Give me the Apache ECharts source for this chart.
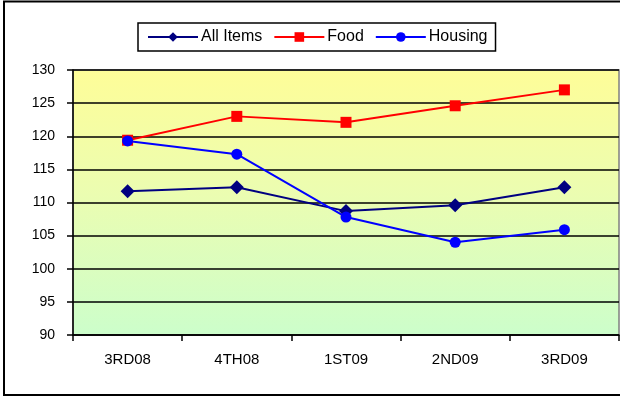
<!DOCTYPE html>
<html>
<head>
<meta charset="utf-8">
<style>
  html, body { margin: 0; padding: 0; background: #ffffff; }
  #chart { width: 620px; height: 397px; }
</style>
<script src="https://cdn.jsdelivr.net/npm/echarts@6/dist/echarts.min.js"></script>
</head>
<body>
<div id="chart"></div>
<script>
// Quarterly index values
const quarters = ['3RD08', '4TH08', '1ST09', '2ND09', '3RD09'];
const allItems = [111.7, 112.3, 108.7, 109.6, 112.3];
const food = [119.4, 123.0, 122.1, 124.6, 127.0];
const housing = [119.3, 117.3, 107.8, 104.0, 105.9];
const yTicks = { min: 90, max: 130, interval: 5 };

const FONT = '"Liberation Sans", Arial, sans-serif';

const chart = echarts.init(document.getElementById('chart'), null, { renderer: 'canvas' });

function lineSeries(name, data, color, symbol, size) {
  return {
    name: name,
    type: 'line',
    data: data,
    symbol: symbol,
    symbolSize: size,
    showAllSymbol: true,
    lineStyle: { color: color, width: 2 },
    itemStyle: { color: color, borderColor: color, borderWidth: 0 },
    emphasis: { disabled: true },
    animation: false
  };
}

chart.setOption({
  animation: false,
  backgroundColor: '#ffffff',
  textStyle: { fontFamily: FONT },
  graphic: [{
    type: 'rect',
    silent: true,
    z: 100,
    shape: { x: 4, y: 1.5, width: 640, height: 393.5 },
    style: { fill: 'none', stroke: '#000000', lineWidth: 2 }
  }],
  legend: {
    left: 138,
    top: 23,
    padding: [6, 8, 6, 9],
    itemWidth: 50,
    itemHeight: 12,
    itemGap: 11,
    borderColor: '#000000',
    borderWidth: 1.5,
    backgroundColor: '#ffffff',
    textStyle: { fontFamily: FONT, fontSize: 16, color: '#000000', padding: [0, 0, 0, -2] },
    data: ['All Items', 'Food', 'Housing']
  },
  grid: {
    left: 73,
    right: 1,
    top: 70,
    bottom: 62,
    show: true,
    borderColor: '#808080',
    borderWidth: 1.5,
    backgroundColor: {
      type: 'linear', x: 0, y: 0, x2: 0, y2: 1,
      colorStops: [
        { offset: 0, color: '#fefd98' },
        { offset: 0.45, color: '#ecfdb0' },
        { offset: 1, color: '#ccfecb' }
      ]
    }
  },
  xAxis: {
    type: 'category',
    data: quarters,
    boundaryGap: true,
    axisLine: { lineStyle: { color: '#000000', width: 1.5 } },
    axisTick: { show: true, length: 6, inside: false, lineStyle: { color: '#000000', width: 1.5 } },
    axisLabel: { color: '#000000', fontSize: 15, fontFamily: FONT, margin: 17 },
    splitLine: { show: false }
  },
  yAxis: {
    type: 'value',
    min: yTicks.min,
    max: yTicks.max,
    interval: yTicks.interval,
    axisLine: { show: true, lineStyle: { color: '#000000', width: 1.5 } },
    axisTick: { show: true, length: 6, lineStyle: { color: '#000000', width: 1.5 } },
    axisLabel: { color: '#000000', fontSize: 14, fontFamily: FONT, margin: 18 },
    splitLine: { show: true, lineStyle: { color: '#000000', width: 1.5 } }
  },
  series: [
    lineSeries('All Items', allItems, '#000080', 'diamond', 14),
    lineSeries('Food', food, '#ff0000', 'rect', 11),
    lineSeries('Housing', housing, '#0000ff', 'circle', 11)
  ]
});
</script>
</body>
</html>
